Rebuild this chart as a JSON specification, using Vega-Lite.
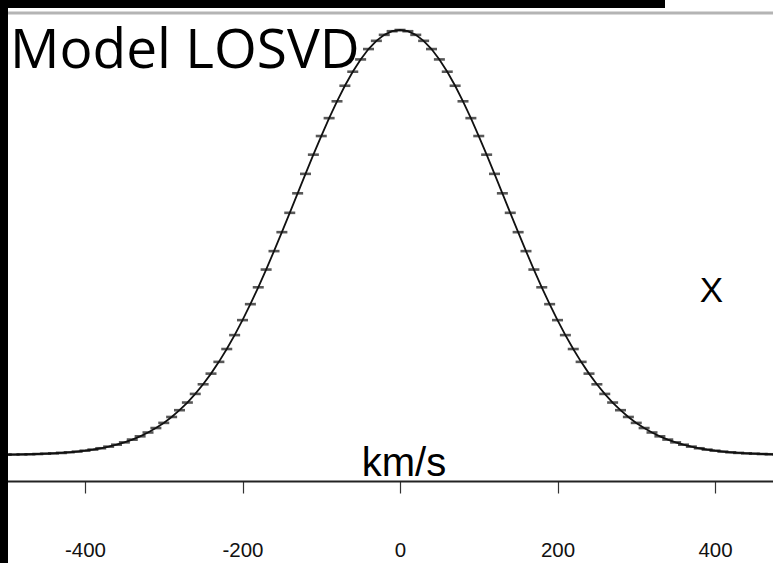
{
  "$schema": "https://vega.github.io/schema/vega-lite/v6.json",
  "width": 773,
  "height": 563,
  "autosize": {"type": "none"},
  "padding": 0,
  "background": "white",
  "config": {"view": {"stroke": null}},
  "data": {"values": [{}]},
  "datasets": {
    "losvd": [
      {"v": -510, "f": 0.00057}, {"v": -500, "f": 0.00077}, {"v": -490, "f": 0.00102}, {"v": -480, "f": 0.00135},
      {"v": -470, "f": 0.00177}, {"v": -460, "f": 0.00231}, {"v": -450, "f": 0.00300}, {"v": -440, "f": 0.00387},
      {"v": -430, "f": 0.00496}, {"v": -420, "f": 0.00634}, {"v": -410, "f": 0.00804}, {"v": -400, "f": 0.01014},
      {"v": -390, "f": 0.01272}, {"v": -380, "f": 0.01586}, {"v": -370, "f": 0.01967}, {"v": -360, "f": 0.02426},
      {"v": -350, "f": 0.02974}, {"v": -340, "f": 0.03626}, {"v": -330, "f": 0.04394}, {"v": -320, "f": 0.05295},
      {"v": -310, "f": 0.06342}, {"v": -300, "f": 0.07555}, {"v": -290, "f": 0.08950}, {"v": -280, "f": 0.10542},
      {"v": -270, "f": 0.12345}, {"v": -260, "f": 0.14372}, {"v": -250, "f": 0.16637}, {"v": -240, "f": 0.19148},
      {"v": -230, "f": 0.21914}, {"v": -220, "f": 0.24935}, {"v": -210, "f": 0.28209}, {"v": -200, "f": 0.31733},
      {"v": -190, "f": 0.35491}, {"v": -180, "f": 0.39463}, {"v": -170, "f": 0.43634}, {"v": -160, "f": 0.47970},
      {"v": -150, "f": 0.52432}, {"v": -140, "f": 0.56982}, {"v": -130, "f": 0.61572}, {"v": -120, "f": 0.66152},
      {"v": -110, "f": 0.70667}, {"v": -100, "f": 0.75053}, {"v": -90, "f": 0.79262}, {"v": -80, "f": 0.83222},
      {"v": -70, "f": 0.86883}, {"v": -60, "f": 0.90185}, {"v": -50, "f": 0.93078}, {"v": -40, "f": 0.95513},
      {"v": -30, "f": 0.97451}, {"v": -20, "f": 0.98859}, {"v": -10, "f": 0.99713}, {"v": 0, "f": 1.0},
      {"v": 10, "f": 0.99713}, {"v": 20, "f": 0.98859}, {"v": 30, "f": 0.97451}, {"v": 40, "f": 0.95513},
      {"v": 50, "f": 0.93078}, {"v": 60, "f": 0.90185}, {"v": 70, "f": 0.86883}, {"v": 80, "f": 0.83222},
      {"v": 90, "f": 0.79262}, {"v": 100, "f": 0.75053}, {"v": 110, "f": 0.70667}, {"v": 120, "f": 0.66152},
      {"v": 130, "f": 0.61572}, {"v": 140, "f": 0.56982}, {"v": 150, "f": 0.52432}, {"v": 160, "f": 0.47970},
      {"v": 170, "f": 0.43634}, {"v": 180, "f": 0.39463}, {"v": 190, "f": 0.35491}, {"v": 200, "f": 0.31733},
      {"v": 210, "f": 0.28209}, {"v": 220, "f": 0.24935}, {"v": 230, "f": 0.21914}, {"v": 240, "f": 0.19148},
      {"v": 250, "f": 0.16637}, {"v": 260, "f": 0.14372}, {"v": 270, "f": 0.12345}, {"v": 280, "f": 0.10542},
      {"v": 290, "f": 0.08950}, {"v": 300, "f": 0.07555}, {"v": 310, "f": 0.06342}, {"v": 320, "f": 0.05295},
      {"v": 330, "f": 0.04394}, {"v": 340, "f": 0.03626}, {"v": 350, "f": 0.02974}, {"v": 360, "f": 0.02426},
      {"v": 370, "f": 0.01967}, {"v": 380, "f": 0.01586}, {"v": 390, "f": 0.01272}, {"v": 400, "f": 0.01014},
      {"v": 410, "f": 0.00804}, {"v": 420, "f": 0.00634}, {"v": 430, "f": 0.00496}, {"v": 440, "f": 0.00387},
      {"v": 450, "f": 0.00300}, {"v": 460, "f": 0.00231}, {"v": 470, "f": 0.00177}, {"v": 480, "f": 0.00135}
    ]
  },
  "layer": [
    {
      "description": "thin grey top border of the plot box, also carries the x axis",
      "mark": {"type": "rule", "color": "#b4b4b4", "strokeWidth": 3},
      "encoding": {
        "x": {"datum": -507.94, "type": "quantitative", "scale": {"domain": [-507.94, 473.65], "nice": false, "zero": false},
          "axis": {
            "orient": "bottom", "offset": -82, "values": [-400, -200, 0, 200, 400], "title": null, "grid": false,
            "labelExpr": "'' + datum.value",
            "domainColor": "#222222", "domainWidth": 1.8, "tickColor": "#333333", "tickWidth": 1.2, "tickSize": 12,
            "labelFont": "Liberation Sans", "labelFontSize": 20.5, "labelColor": "#111111",
            "labelBaseline": "alphabetic", "labelPadding": 63, "labelFlush": false, "labelOverlap": false, "zindex": 0
          }},
        "x2": {"datum": 473.65},
        "y": {"datum": 1.04, "type": "quantitative", "scale": {"domain": [-0.25412, 1.07059], "nice": false, "zero": false}, "axis": null}
      }
    },
    {
      "data": {"name": "losvd"},
      "mark": {"type": "line", "color": "#111111", "strokeWidth": 1.8, "clip": true},
      "encoding": {
        "x": {"field": "v", "type": "quantitative"},
        "y": {"field": "f", "type": "quantitative"}
      }
    },
    {
      "data": {"name": "losvd"},
      "mark": {"type": "tick", "orient": "horizontal", "color": "#111111", "size": 11, "thickness": 2.6, "clip": true},
      "encoding": {
        "x": {"field": "v", "type": "quantitative"},
        "y": {"field": "f", "type": "quantitative"}
      }
    },
    {
      "mark": {"type": "text", "text": "Model LOSVD", "align": "left", "baseline": "alphabetic", "font": "Open Sans", "fontSize": 55, "color": "black"},
      "encoding": {"x": {"datum": -495.2, "type": "quantitative"}, "y": {"datum": 0.91059, "type": "quantitative"}}
    },
    {
      "mark": {"type": "text", "text": "X", "align": "center", "baseline": "alphabetic", "font": "Liberation Sans", "fontSize": 35, "color": "black"},
      "encoding": {"x": {"datum": 395.5, "type": "quantitative"}, "y": {"datum": 0.36, "type": "quantitative"}}
    },
    {
      "mark": {"type": "text", "text": "km/s", "align": "center", "baseline": "alphabetic", "font": "Liberation Sans", "fontSize": 40, "color": "black"},
      "encoding": {"x": {"datum": 5.08, "type": "quantitative"}, "y": {"datum": -0.04941, "type": "quantitative"}}
    },
    {
      "description": "black left edge band",
      "mark": {"type": "rect", "color": "black"},
      "encoding": {
        "x": {"datum": -507.94, "type": "quantitative"}, "x2": {"datum": -497.78},
        "y": {"datum": -0.25412, "type": "quantitative"}, "y2": {"datum": 1.07059}
      }
    },
    {
      "description": "black top band",
      "mark": {"type": "rect", "color": "black"},
      "encoding": {
        "x": {"datum": -507.94, "type": "quantitative"}, "x2": {"datum": 336.51},
        "y": {"datum": 1.05177, "type": "quantitative"}, "y2": {"datum": 1.07059}
      }
    }
  ]
}
